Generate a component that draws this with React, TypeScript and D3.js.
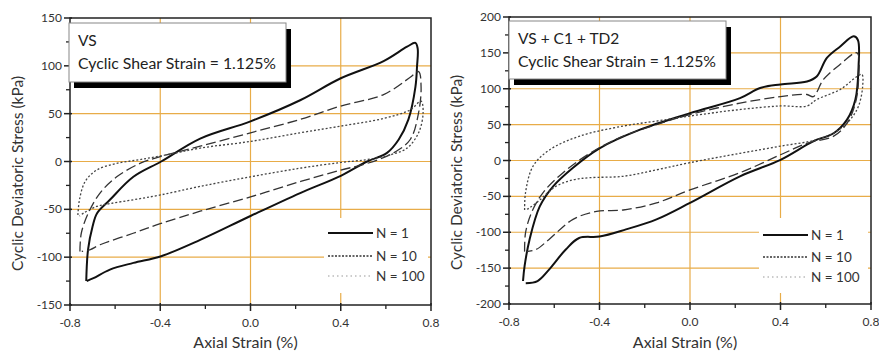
import React from "react";
import * as d3 from "d3";

type P = [number, number];

// Left panel: VS
const vsN1: P[] = [
  [-0.728, -125], [-0.72, -92], [-0.7, -68], [-0.68, -54], [-0.623, -40], [-0.519, -16], [-0.396, 0],
  [-0.223, 24], [0.0, 42], [0.22, 64], [0.4, 87], [0.59, 105], [0.694, 120], [0.731, 124],
  [0.741, 118], [0.738, 99], [0.731, 78], [0.7, 44], [0.657, 23], [0.605, 9], [0.517, 0],
  [0.4, -15], [0.22, -33], [0.0, -57], [-0.223, -82], [-0.396, -99], [-0.519, -106],
  [-0.623, -113], [-0.696, -122], [-0.726, -125],
];
const vsN10: P[] = [
  [-0.756, -94], [-0.75, -75], [-0.719, -54], [-0.667, -33], [-0.593, -16], [-0.49, -2], [-0.4, 5],
  [-0.223, 16], [0.0, 30], [0.22, 44], [0.4, 58], [0.59, 70], [0.708, 88], [0.745, 94],
  [0.756, 78], [0.745, 51], [0.708, 23], [0.634, 9], [0.517, -2], [0.4, -9], [0.22, -21],
  [0.0, -37], [-0.223, -52], [-0.4, -65], [-0.52, -75], [-0.667, -87], [-0.71, -92], [-0.748, -94],
];
const vsN100: P[] = [
  [-0.765, -56], [-0.758, -40], [-0.733, -21], [-0.682, -9], [-0.593, -2], [-0.49, 2], [-0.371, 7],
  [-0.223, 14], [0.0, 21], [0.22, 30], [0.4, 37], [0.59, 45], [0.708, 54], [0.756, 63],
  [0.765, 51], [0.745, 30], [0.694, 14], [0.62, 7], [0.517, 2], [0.4, -1], [0.22, -7],
  [0.0, -16], [-0.223, -26], [-0.4, -35], [-0.519, -40], [-0.623, -44], [-0.682, -47],
  [-0.74, -54], [-0.758, -57],
];

// Right panel: VS + C1 + TD2
const tdN1: P[] = [
  [-0.738, -168], [-0.731, -147], [-0.709, -110], [-0.664, -64], [-0.605, -36], [-0.517, -10],
  [-0.4, 17], [-0.221, 43], [0.0, 66], [0.221, 87], [0.31, 101], [0.4, 106], [0.517, 110],
  [0.56, 117], [0.605, 143], [0.664, 159], [0.723, 173], [0.742, 168], [0.745, 131],
  [0.731, 85], [0.694, 57], [0.635, 38], [0.546, 27], [0.4, 1], [0.221, -22], [0.0, -59],
  [-0.148, -82], [-0.283, -96], [-0.4, -106], [-0.49, -108], [-0.549, -124], [-0.623, -152],
  [-0.674, -168], [-0.726, -171],
];
const tdN10: P[] = [
  [-0.731, -127], [-0.727, -101], [-0.701, -73], [-0.65, -45], [-0.561, -17], [-0.443, 10],
  [-0.295, 34], [-0.148, 50], [0.0, 64], [0.221, 80], [0.4, 89], [0.517, 92], [0.545, 89],
  [0.59, 113], [0.664, 134], [0.738, 150], [0.745, 113], [0.731, 80], [0.694, 52],
  [0.635, 34], [0.517, 24], [0.4, 8], [0.221, -17], [0.0, -41], [-0.148, -59], [-0.295, -69],
  [-0.413, -71], [-0.517, -82], [-0.623, -110], [-0.68, -124], [-0.723, -127],
];
const tdN100: P[] = [
  [-0.731, -69], [-0.727, -45], [-0.694, -8], [-0.62, 15], [-0.487, 34], [-0.295, 48],
  [-0.148, 55], [0.0, 62], [0.221, 71], [0.4, 76], [0.517, 76], [0.56, 85], [0.664, 99],
  [0.738, 117], [0.76, 120], [0.763, 103], [0.745, 76], [0.708, 57], [0.649, 41], [0.56, 29],
  [0.4, 20], [0.221, 10], [0.0, -3], [-0.148, -13], [-0.295, -22], [-0.443, -24],
  [-0.517, -27], [-0.593, -36], [-0.664, -55], [-0.709, -66], [-0.727, -69],
];

const xTicks = [-0.8, -0.4, 0.0, 0.4, 0.8];
const xMinor = [-0.6, -0.2, 0.2, 0.6];
const leftYTicks = [-150, -100, -50, 0, 50, 100, 150];
const rightYTicks = [-200, -150, -100, -50, 0, 50, 100, 150, 200];
const legendLabels = ["N = 1", "N = 10", "N = 100"];

const FONT = "Lato, 'Open Sans', sans-serif";
const GRID = "#E8AC48";

interface PanelProps {
  left: number;
  right: number;
  top: number;
  bottom: number;
  yDomain: [number, number];
  yTicks: number[];
  series: P[][];
  title: string;
  boxX: number;
  boxY: number;
  boxW: number;
  boxH: number;
  legendX: number;
  legendRows: number[];
  titleX: number;
}

function Panel(p: PanelProps) {
  const x = d3.scaleLinear().domain([-0.8, 0.8]).range([p.left, p.right]);
  const y = d3.scaleLinear().domain(p.yDomain).range([p.bottom, p.top]);
  const line = d3
    .line<P>()
    .x((d) => x(d[0]))
    .y((d) => y(d[1]))
    .curve(d3.curveCatmullRom.alpha(0.5));
  const step = p.yTicks[1] - p.yTicks[0];
  const yMinor: number[] = [];
  for (let v = p.yDomain[0] + step / 2; v < p.yDomain[1]; v += step) yMinor.push(v);
  const styles = [
    { stroke: "#111", width: 2, dash: "none" },
    { stroke: "#333", width: 1.3, dash: "10 4" },
    { stroke: "#444", width: 1.3, dash: "2 2" },
  ];
  const legStyles = [
    { stroke: "#111", width: 2, dash: "none" },
    { stroke: "#333", width: 1.3, dash: "2 1.5" },
    { stroke: "#999", width: 1.2, dash: "1.5 3" },
  ];
  const gridY = p.yTicks.filter((v) => v !== p.yDomain[0] && v !== p.yDomain[1]);
  const gridX = xTicks.filter((v) => v !== -0.8 && v !== 0.8);
  const midY = (p.top + p.bottom) / 2;
  return (
    <g>
      {gridY.map((v) => (
        <line key={"gy" + v} x1={p.left} x2={p.right} y1={y(v)} y2={y(v)} stroke={GRID} strokeWidth={1.2} />
      ))}
      {gridX.map((v) => (
        <line key={"gx" + v} x1={x(v)} x2={x(v)} y1={p.top} y2={p.bottom} stroke={GRID} strokeWidth={1.2} />
      ))}
      <rect x={p.legendX - 4} y={218} width={p.right - p.legendX + 1} height={75} fill="#fff" />
      {p.series.map((s, i) => (
        <path
          key={"s" + i}
          d={line(s) || ""}
          fill="none"
          stroke={styles[i].stroke}
          strokeWidth={styles[i].width}
          strokeDasharray={styles[i].dash}
          strokeLinejoin="round"
        />
      ))}
      <rect x={p.left} y={p.top} width={p.right - p.left} height={p.bottom - p.top} fill="none" stroke="#222" strokeWidth={1.5} />
      {xTicks.map((v) => (
        <g key={"xt" + v}>
          <line x1={x(v)} x2={x(v)} y1={p.bottom - 2} y2={p.bottom + 6} stroke="#222" strokeWidth={1.5} />
          <text x={x(v)} y={p.bottom + 22} textAnchor="middle" fontFamily={FONT} fontSize={12} fill="#333">
            {v.toFixed(1)}
          </text>
        </g>
      ))}
      {xMinor.map((v) => (
        <line key={"xm" + v} x1={x(v)} x2={x(v)} y1={p.bottom} y2={p.bottom + 4} stroke="#222" strokeWidth={1.3} />
      ))}
      {p.yTicks.map((v) => (
        <g key={"yt" + v}>
          <line x1={p.left - 6} x2={p.left + 2} y1={y(v)} y2={y(v)} stroke="#222" strokeWidth={1.5} />
          <text x={p.left - 8} y={y(v) + 4} textAnchor="end" fontFamily={FONT} fontSize={12} fill="#333">
            {v}
          </text>
        </g>
      ))}
      {yMinor.map((v) => (
        <line key={"ym" + v} x1={p.left - 4} x2={p.left} y1={y(v)} y2={y(v)} stroke="#222" strokeWidth={1.3} />
      ))}
      <text x={(p.left + p.right) / 2 - 5} y={348} textAnchor="middle" fontFamily={FONT} fontSize={16} fill="#333">
        Axial Strain (%)
      </text>
      <text
        transform={`translate(${p.titleX},${midY + 12}) rotate(-90)`}
        textAnchor="middle"
        fontFamily={FONT}
        fontSize={15.5}
        fill="#333"
      >
        Cyclic Deviatoric Stress (kPa)
      </text>
      <rect x={p.boxX + 5} y={p.boxY + 6} width={p.boxW} height={p.boxH} fill="#000" />
      <rect x={p.boxX} y={p.boxY} width={p.boxW} height={p.boxH} fill="#fff" stroke="#888" strokeWidth={1} />
      <text x={p.boxX + 9} y={p.boxY + 23} fontFamily={FONT} fontSize={15.5} fill="#222">
        {p.title}
      </text>
      <text x={p.boxX + 9} y={p.boxY + 46} fontFamily={FONT} fontSize={15.5} fill="#222" textLength={198} lengthAdjust="spacingAndGlyphs">
        Cyclic Shear Strain = 1.125%
      </text>
      {legendLabels.map((lab, i) => (
        <g key={"lg" + i}>
          <line
            x1={p.legendX}
            x2={p.legendX + 45}
            y1={p.legendRows[i]}
            y2={p.legendRows[i]}
            stroke={legStyles[i].stroke}
            strokeWidth={legStyles[i].width}
            strokeDasharray={legStyles[i].dash}
          />
          <text x={p.legendX + 48} y={p.legendRows[i] + 5} fontFamily={FONT} fontSize={13.5} fill="#333">
            {lab}
          </text>
        </g>
      ))}
    </g>
  );
}

export default function App() {
  return (
    <svg
      width={879}
      height={354}
      style={{ position: "absolute", left: 0, top: 0, background: "#fff" }}
      viewBox="0 0 879 354"
    >
      <rect width={879} height={354} fill="#fff" />
      <Panel
        left={70}
        right={431}
        top={18}
        bottom={305}
        yDomain={[-150, 150]}
        yTicks={leftYTicks}
        series={[vsN1, vsN10, vsN100]}
        title="VS"
        boxX={69}
        boxY={23}
        boxW={217}
        boxH={59}
        legendX={328}
        legendRows={[233, 256, 276]}
        titleX={23}
      />
      <Panel
        left={509}
        right={871}
        top={17}
        bottom={304}
        yDomain={[-200, 200]}
        yTicks={rightYTicks}
        series={[tdN1, tdN10, tdN100]}
        title="VS + C1 + TD2"
        boxX={509}
        boxY={21}
        boxW={217}
        boxH={58}
        legendX={763}
        legendRows={[235, 257, 277]}
        titleX={462}
      />
    </svg>
  );
}
